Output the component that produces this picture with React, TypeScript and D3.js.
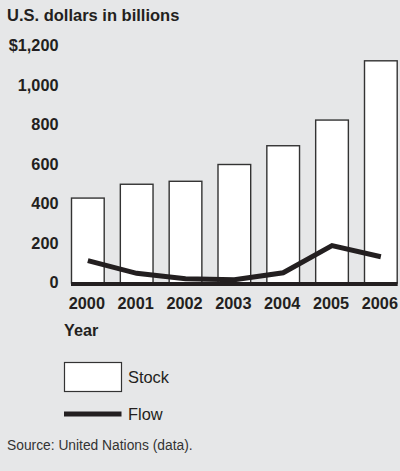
import React from "react";
import * as d3 from "d3";

const years = ["2000", "2001", "2002", "2003", "2004", "2005", "2006"];
const stock = [430, 500, 515, 600, 695, 825, 1125];
const flow = [113, 49, 22, 17, 52, 189, 133];
const yTicks = [0, 200, 400, 600, 800, 1000, 1200];
const yTickLabels = ["0", "200", "400", "600", "800", "1,000", "$1,200"];

const W = 400;
const H = 471;
const INK = "#231f20";
const FONT = "'Liberation Sans', Arial, Helvetica, sans-serif";

export default function App() {
  const x = d3.scaleBand<string>().domain(years).range([71, 397.7]).paddingInner(0.31).paddingOuter(0);
  const y = d3.scaleLinear().domain([0, 1200]).range([283, 46]);
  const line = d3
    .line<number>()
    .x((_, i) => (x(years[i]) as number) + x.bandwidth() / 2)
    .y((d) => y(d));

  return (
    <svg
      width={W}
      height={H}
      style={{ position: "absolute", left: 0, top: 0, display: "block" }}
      fontFamily={FONT}
    >
      <rect x={0} y={0} width={W} height={H} fill="#e6e7e8" />
      <text x={7} y={21} fontSize={16.5} fontWeight="bold" fill={INK}>
        U.S. dollars in billions
      </text>
      {yTicks.map((t, i) => (
        <text key={t} x={58.5} y={y(t) + 5} textAnchor="end" fontSize={16.3} fontWeight="bold" fill={INK}>
          {yTickLabels[i]}
        </text>
      ))}
      {years.map((yr, i) => (
        <rect
          key={yr}
          x={(x(yr) as number) + 0.5}
          y={y(stock[i])}
          width={x.bandwidth() - 1}
          height={y(0) - y(stock[i])}
          fill="#ffffff"
          stroke="#333333"
          strokeWidth={1.4}
        />
      ))}
      <line x1={71} x2={397.7} y1={284} y2={284} stroke={INK} strokeWidth={4} />
      <path d={line(flow) || ""} fill="none" stroke={INK} strokeWidth={5} strokeLinejoin="miter" />
      {years.map((yr) => (
        <text
          key={yr}
          x={(x(yr) as number) + x.bandwidth() / 2 - 1}
          y={309.3}
          textAnchor="middle"
          fontSize={16.3}
          fontWeight="bold"
          fill={INK}
        >
          {yr}
        </text>
      ))}
      <text x={64} y={335.7} fontSize={16.2} fontWeight="bold" fill={INK}>
        Year
      </text>
      <rect x={64.5} y={362.5} width={57} height={29} fill="#ffffff" stroke="#333333" strokeWidth={1.2} />
      <text x={128} y={383.3} fontSize={16.4} fill={INK}>
        Stock
      </text>
      <line x1={64} x2={121.5} y1={414} y2={414} stroke={INK} strokeWidth={5} />
      <text x={128} y={420} fontSize={16.4} fill={INK}>
        Flow
      </text>
      <text x={7} y={450} fontSize={13.8} fill="#333333">
        Source: United Nations (data).
      </text>
    </svg>
  );
}
